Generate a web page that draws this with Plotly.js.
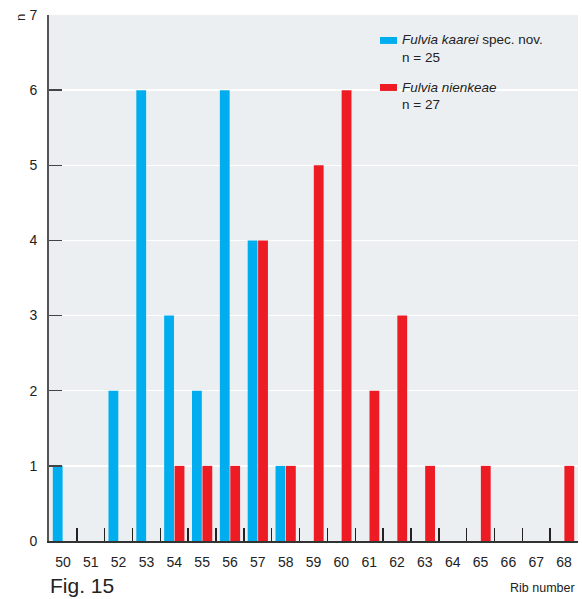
<!DOCTYPE html>
<html><head><meta charset="utf-8">
<script src="https://cdn.plot.ly/plotly-3.0.1.min.js"></script>
<style>html,body{margin:0;padding:0;background:#fff}#c{width:582px;height:599px}</style>
</head><body><div id="c"></div>
<script>
const ribNumbers = ['50','51','52','53','54','55','56','57','58','59','60','61','62','63','64','65','66','67','68'];
const kaarei =     [1,0,2,6,3,2,6,4,1,0,0,0,0,0,0,0,0,0,0];
const nienkeae =   [0,0,0,0,1,1,1,4,1,5,6,2,3,1,0,1,0,0,1];
const yTicks = [0,1,2,3,4,5,6,7];
const legendNames = ['<i>Fulvia kaarei</i> spec. nov.', '<i>Fulvia nienkeae</i>'];
const legendCounts = ['n = 25', 'n = 27'];
const colors = ['#00aeef', '#ed1c24'];

const traces = [
  {type:'bar', x:ribNumbers, y:kaarei, name:'Fulvia kaarei', marker:{color:colors[0]}},
  {type:'bar', x:ribNumbers, y:nienkeae, name:'Fulvia nienkeae', marker:{color:colors[1]}}
];

// custom legend (paper coordinates)
const legY = [0.9525, 0.8631];
const shapes = [];
const ann = [];
for (let i = 0; i < 2; i++) {
  shapes.push({type:'rect', xref:'paper', yref:'paper', x0:0.6257, x1:0.6578,
    y0:legY[i]-0.0075, y1:legY[i]+0.0057, fillcolor:colors[i], line:{width:0}});
  ann.push({text:legendNames[i], xref:'paper', yref:'paper', x:0.6636, y:legY[i],
    xanchor:'left', yanchor:'middle', showarrow:false, font:{size:13.5, color:'#222'}});
  ann.push({text:legendCounts[i], xref:'paper', yref:'paper', x:0.6636, y:legY[i]-0.0342,
    xanchor:'left', yanchor:'middle', showarrow:false, font:{size:13.5, color:'#222'}});
}
ann.push({text:'n', xref:'paper', yref:'paper', x:-0.055, y:0.996, xanchor:'center', yanchor:'middle',
  textangle:-90, showarrow:false, font:{size:13, color:'#222'}});
ann.push({text:'Fig. 15', xref:'paper', yref:'paper', x:-0.002, y:-0.0855, xanchor:'left', yanchor:'middle',
  showarrow:false, font:{size:21, color:'#222'}});
ann.push({text:'Rib number', xref:'paper', yref:'paper', x:0.998, y:-0.0894, xanchor:'right', yanchor:'middle',
  showarrow:false, font:{size:12.5, color:'#222'}});

const layout = {
  width:582, height:599,
  margin:{l:49, r:4, t:15, b:58},
  paper_bgcolor:'#ffffff', plot_bgcolor:'#eceff2',
  font:{family:'Liberation Sans, Arial, sans-serif', size:14, color:'#222'},
  barmode:'group', bargap:0.25, bargroupgap:0.06,
  showlegend:false,
  xaxis:{type:'category', tickson:'boundaries', ticks:'inside', ticklen:13, tickwidth:1.5, tickcolor:'#222',
         showline:true, linecolor:'#333', linewidth:2, showgrid:false, zeroline:false,
         tickfont:{size:14, color:'#222'}, ticklabelstandoff:7},
  yaxis:{range:[0,7], tickvals:yTicks, ticks:'inside', ticklen:13, tickwidth:1.5, tickcolor:'#444',
         showline:true, linecolor:'#555', linewidth:2, showgrid:true, gridcolor:'#ffffff', gridwidth:1.5,
         zeroline:false, tickfont:{size:14, color:'#222'}, ticklabelstandoff:7},
  shapes:shapes,
  annotations:ann
};
Plotly.newPlot('c', traces, layout, {displayModeBar:false, staticPlot:true});
</script></body></html>
